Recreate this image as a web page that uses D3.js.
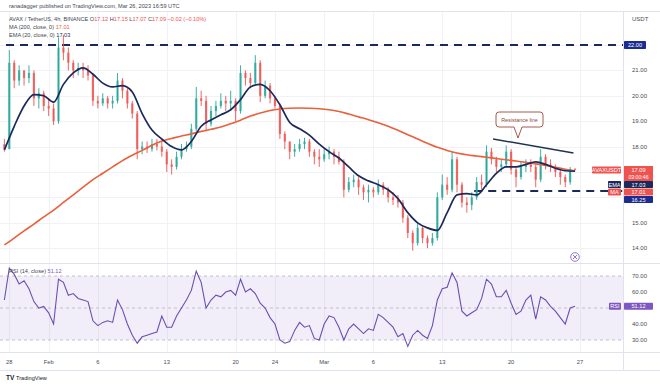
<!DOCTYPE html>
<html>
<head>
<meta charset="utf-8">
<script src="https://cdn.jsdelivr.net/npm/d3@7"></script>
<style>
  body { margin: 0; background: #fff; }
  svg { display: block; font-family: "Liberation Sans", Arial, sans-serif; }
</style>
</head>
<body>
<div id="chart"></div>
<script>
// AVAX/USDT candles at 12h steps starting 27 Jan 12:00 UTC
const candleStart = Date.UTC(2023, 0, 27, 12)
const candleStep = 12 * 3600 * 1000
const firstOpen = 18.1

const closes = [17.9,21.3,20.6,21.0,20.7,20.9,19.9,20.1,19.6,19.5,
  19.0,21.9,21.7,21.3,21.0,21.1,21.0,20.8,19.8,19.7,
  19.9,19.7,19.8,20.6,20.2,19.7,19.3,17.9,18.0,17.9,
  18.1,18.0,17.8,17.3,17.2,17.6,17.9,18.0,18.7,19.9,
  19.8,18.9,19.4,19.6,19.8,19.7,19.8,19.4,20.9,20.7,
  20.5,21.3,20.0,20.4,19.9,19.6,18.5,18.2,17.8,17.9,
  18.1,18.2,17.8,17.6,17.5,17.7,17.8,17.6,17.4,16.3,
  16.6,16.7,16.4,16.2,16.3,16.2,16.5,16.3,16.0,15.9,
  15.8,15.2,14.6,14.2,14.8,14.4,14.2,14.4,16.0,16.5,
  16.3,17.5,16.5,15.8,15.7,16.0,16.6,16.5,17.8,17.5,
  17.2,17.3,17.8,17.1,16.8,17.2,17.3,17.2,16.7,17.6,
  17.3,17.2,17.0,16.8,16.6,17.12,17.09]

const highs = [18.3,21.8,21.4,21.2,21.0,21.2,21.0,20.3,20.2,19.9,
  19.7,22.3,22.4,21.9,21.4,21.3,21.3,21.2,20.9,20.0,
  20.1,20.0,20.0,20.9,20.7,20.3,19.8,19.4,18.2,18.2,
  18.3,18.3,18.2,17.9,17.5,17.8,18.1,18.2,18.9,20.35,
  20.2,20.0,19.6,19.8,20.1,20.0,20.2,19.9,21.2,21.0,
  20.9,21.6,21.4,20.6,20.5,20.0,19.7,18.6,18.2,18.1,
  18.3,18.35,18.3,17.9,17.9,17.9,18.0,17.9,17.8,17.5,
  16.8,16.9,16.8,16.5,16.5,16.4,16.7,16.6,16.4,16.2,
  16.1,15.9,15.3,14.7,15.0,14.9,14.5,14.6,16.2,16.9,
  16.8,17.8,17.6,16.6,16.0,16.2,16.8,16.9,18.05,17.95,
  17.6,17.5,18.05,17.9,17.2,17.4,17.5,17.5,17.3,17.9,
  17.7,17.5,17.3,17.1,16.9,17.2,17.15]

const lows = [17.8,17.9,20.3,20.4,20.4,20.5,19.6,19.5,19.4,19.2,
  18.85,18.9,21.4,21.0,20.7,20.8,20.7,20.6,19.6,19.5,
  19.6,19.5,19.5,19.7,19.9,19.5,19.1,17.5,17.7,17.75,
  17.8,17.85,17.6,17.0,16.9,17.1,17.5,17.8,17.9,18.6,
  19.6,18.6,18.8,19.2,19.5,19.4,19.4,19.0,19.3,20.4,
  20.3,20.4,19.75,19.9,19.7,19.5,18.3,17.9,17.5,17.6,
  17.8,17.9,17.6,17.3,17.2,17.4,17.5,17.3,17.3,16.0,
  16.2,16.4,16.1,15.9,15.8,16.0,16.1,16.1,15.8,15.7,
  15.6,15.0,14.4,13.9,14.1,14.2,14.0,14.1,14.3,15.9,
  16.1,16.2,16.2,15.6,15.4,15.5,15.9,16.3,16.4,17.3,
  17.0,17.0,17.2,16.9,16.4,16.7,17.0,17.0,16.4,16.6,
  17.1,17.0,16.8,16.5,16.4,16.5,17.07]

// RSI(14) at the same 12h steps
const rsiValues = [55,75,71,65,67,62,54,50,51,47,
  40,68,66,58,59,56,55,54,42,39,
  41,42,41,55,49,40,33,28,32,33,
  34,35,45,38,38,45,50,55,61,73,
  66,50,55,58,57,60,61,58,68,60,
  62,59,53,50,44,40,30,28,29,36,
  41,38,39,31,30,40,45,44,38,30,
  37,40,37,34,37,36,46,44,41,38,
  32,34,26,33,36,33,31,39,55,62,
  63,72,66,48,45,47,49,56,68,65,
  57,57,61,53,46,48,55,58,43,57,
  55,51,48,44,40,50,51.12]

// moving averages, one value a day (12:00 UTC) from 27 Jan
const lineStep = 24 * 3600 * 1000
const emaValues = [17.87,18.8,19.6,20.05,20.0,19.75,20.45,20.9,21.1,20.85,
  20.5,20.35,20.4,20.15,19.3,18.65,18.3,18.0,17.87,18.2,
  18.8,19.05,19.25,19.45,19.85,20.35,20.45,20.2,19.65,18.95,
  18.7,18.45,18.1,17.8,17.55,17.2,16.85,16.65,16.5,16.3,
  15.95,15.4,15.0,14.8,14.7,15.4,16.1,16.15,16.1,16.5,
  16.95,17.2,17.2,17.3,17.4,17.3,17.15,17.05,17.03]
const maValues = [14.13,14.4,14.68,14.95,15.23,15.5,15.8,16.1,16.4,16.7,
  16.95,17.2,17.45,17.66,17.85,18.05,18.22,18.32,18.42,18.5,
  18.6,18.68,18.77,18.9,19.04,19.2,19.32,19.42,19.48,19.51,
  19.52,19.51,19.49,19.45,19.38,19.28,19.17,19.06,18.94,18.8,
  18.64,18.47,18.3,18.13,17.97,17.85,17.75,17.68,17.63,17.58,
  17.53,17.48,17.43,17.38,17.32,17.26,17.19,17.11,17.05]

const priceTicks = [22, 21, 20, 19, 18, 15, 14]
const rsiTicks = [70, 60, 40, 30]
const rsiBands = [70, 50, 30]
const tickDates = [[0,28],[1,1],[1,6],[1,13],[1,20],[1,24],[2,1],[2,6],[2,13],[2,20],[2,27]]
const tickLabels = ["28","Feb","6","13","20","24","Mar","6","13","20","27"]

const supportLevel = 16.25
const topLevel = 22
const resistance = [[Date.UTC(2023,2,18,4), 18.3], [Date.UTC(2023,2,26,8), 17.75]]

const W = 660, H = 384
const axisX = 623
const up = "#26a69a", down = "#ef5350"
const maColor = "#e8603c", emaColor = "#1b2a5c", navy = "#1c2b8f"

const x = d3.scaleTime()
  .domain([Date.UTC(2023,0,28), Date.UTC(2023,2,27)])
  .range([9.3, 580])
const y = d3.scaleLinear().domain([14, 22]).range([248.2, 45])
const yr = d3.scaleLinear().domain([30, 70]).range([340, 276])

const candles = closes.map((c, i) => ({
  t: candleStart + i * candleStep,
  o: i ? closes[i - 1] : firstOpen,
  h: highs[i], l: lows[i], c
}))

const svg = d3.select("#chart").append("svg")
  .attr("width", W).attr("height", H)

// frame and grid
const grid = svg.append("g").attr("stroke", "#f1f2f5").attr("stroke-width", 1)
tickDates.forEach(d => {
  const gx = Math.round(x(Date.UTC(2023, d[0], d[1]))) + 0.5
  grid.append("line").attr("x1", gx).attr("x2", gx).attr("y1", 12).attr("y2", 352)
})
priceTicks.concat([17, 16]).forEach(p => {
  grid.append("line").attr("x1", 0).attr("x2", axisX).attr("y1", Math.round(y(p)) + 0.5).attr("y2", Math.round(y(p)) + 0.5)
})

svg.append("rect")
  .attr("x", 0).attr("width", axisX)
  .attr("y", yr(70)).attr("height", yr(30) - yr(70))
  .attr("fill", "#7e57c2").attr("fill-opacity", 0.1)

const frame = svg.append("g").attr("stroke", "#e0e3eb").attr("stroke-width", 1)
frame.append("line").attr("x1", 0).attr("x2", W).attr("y1", 11.5).attr("y2", 11.5)
frame.append("line").attr("x1", 0).attr("x2", W).attr("y1", 263.5).attr("y2", 263.5)
frame.append("line").attr("x1", 0).attr("x2", W).attr("y1", 352.5).attr("y2", 352.5)
frame.append("line").attr("x1", 0).attr("x2", W).attr("y1", 370.5).attr("y2", 370.5)
frame.append("line").attr("x1", axisX + 0.5).attr("x2", axisX + 0.5).attr("y1", 11.5).attr("y2", 370.5)

// header
const head = svg.append("g").attr("font-size", 5.6).attr("fill", "#434651")
head.append("text").attr("x", 9).attr("y", 8).text("ranadagger published on TradingView.com, Mar 26, 2023 16:59 UTC")
const l2 = head.append("text").attr("x", 9).attr("y", 21)
l2.append("tspan").text("AVAX / TetherUS, 4h, BINANCE  O")
l2.append("tspan").attr("fill", down).text("17.12")
l2.append("tspan").text("  H")
l2.append("tspan").attr("fill", down).text("17.15")
l2.append("tspan").text("  L")
l2.append("tspan").attr("fill", down).text("17.07")
l2.append("tspan").text("  C")
l2.append("tspan").attr("fill", down).text("17.09  \u22120.02 (\u22120.10%)")
const l3 = head.append("text").attr("x", 9).attr("y", 29)
l3.append("tspan").text("MA (200, close, 0)  ")
l3.append("tspan").attr("fill", maColor).text("17.01")
const l4 = head.append("text").attr("x", 9).attr("y", 37)
l4.append("tspan").text("EMA (20, close, 0)  ")
l4.append("tspan").attr("fill", emaColor).text("17.03")

// horizontal levels
svg.append("line")
  .attr("x1", 6).attr("x2", axisX).attr("y1", y(topLevel)).attr("y2", y(topLevel))
  .attr("stroke", emaColor).attr("stroke-width", 2).attr("stroke-dasharray", "8,6")
svg.append("line")
  .attr("x1", x(Date.UTC(2023,2,16,6))).attr("x2", axisX).attr("y1", y(supportLevel)).attr("y2", y(supportLevel))
  .attr("stroke", emaColor).attr("stroke-width", 2).attr("stroke-dasharray", "8,6")

// candles
const cw = 2.2
const cg = svg.append("g")
candles.forEach(d => {
  const cx = x(d.t)
  const col = d.c >= d.o ? up : down
  const top = Math.max(d.o, d.c), bot = Math.min(d.o, d.c)
  cg.append("line")
    .attr("x1", cx).attr("x2", cx)
    .attr("y1", y(Math.max(d.h, top))).attr("y2", y(Math.min(d.l, bot)))
    .attr("stroke", col).attr("stroke-width", 0.9)
  cg.append("rect")
    .attr("x", cx - cw / 2).attr("width", cw)
    .attr("y", y(top)).attr("height", Math.max(0.8, y(bot) - y(top)))
    .attr("fill", col).attr("fill-opacity", 0.8)
})

// moving averages
const lineTime = i => candleStart + i * lineStep
const ln = d3.line().x((d, i) => x(lineTime(i))).y(d => y(d)).curve(d3.curveMonotoneX)
svg.append("path").attr("d", ln(maValues)).attr("fill", "none")
  .attr("stroke", maColor).attr("stroke-width", 1.6)
svg.append("path").attr("d", ln(emaValues)).attr("fill", "none")
  .attr("stroke", emaColor).attr("stroke-width", 1.7)

// resistance line + callout
svg.append("line")
  .attr("x1", x(resistance[0][0])).attr("y1", y(resistance[0][1]))
  .attr("x2", x(resistance[1][0])).attr("y2", y(resistance[1][1]))
  .attr("stroke", "#1f3350").attr("stroke-width", 1.4)
const bx = 496, by = 112, bw = 47, bh = 15
svg.append("path")
  .attr("d", `M${bx + 3},${by} H${bx + bw - 3} Q${bx + bw},${by} ${bx + bw},${by + 3} V${by + bh - 3} Q${bx + bw},${by + bh} ${bx + bw - 3},${by + bh}
    H${bx + 26} L${bx + 22},${by + bh + 11} L${bx + 18},${by + bh} H${bx + 3} Q${bx},${by + bh} ${bx},${by + bh - 3} V${by + 3} Q${bx},${by} ${bx + 3},${by} Z`)
  .attr("fill", "#fff").attr("stroke", "#a85a4e").attr("stroke-width", 1)
svg.append("text").attr("x", bx + bw / 2).attr("y", by + 9.5)
  .attr("text-anchor", "middle").attr("font-size", 5.4).attr("fill", "#8b4a3d")
  .text("Resistance line")

// small close icon
svg.append("circle").attr("cx", 575).attr("cy", 257).attr("r", 4.3)
  .attr("fill", "#fff").attr("stroke", "#9575cd").attr("stroke-width", 1)
svg.append("path").attr("d", "M573,255 L577,259 M577,255 L573,259")
  .attr("stroke", "#9575cd").attr("stroke-width", 1)

// RSI pane
rsiBands.forEach(v => {
  svg.append("line").attr("x1", 0).attr("x2", axisX).attr("y1", yr(v)).attr("y2", yr(v))
    .attr("stroke", "#b2b5be").attr("stroke-width", 0.8).attr("stroke-dasharray", "3,3")
})
const rl = d3.line().x((d, i) => x(candleStart + i * candleStep)).y(d => yr(d))
svg.append("path").attr("d", rl(rsiValues)).attr("fill", "none")
  .attr("stroke", "#6a4fb0").attr("stroke-width", 1.1)
const rh = svg.append("text").attr("x", 9).attr("y", 273).attr("font-size", 5.6).attr("fill", "#434651")
rh.append("tspan").text("RSI (14, close)  ")
rh.append("tspan").attr("fill", "#7e57c2").text("51.12")

// right axis
const ax = svg.append("g").attr("font-size", 6).attr("fill", "#4a4d57")
ax.append("text").attr("x", 632).attr("y", 21).text("USDT")
priceTicks.filter(p => p !== topLevel).forEach(p => {
  ax.append("text").attr("x", 632).attr("y", y(p) + 2).text(p.toFixed(2))
})
rsiTicks.forEach(v => {
  ax.append("text").attr("x", 632).attr("y", yr(v) + 2).text(v.toFixed(2))
})

function tag(x0, yc, w, h, fill, txt) {
  svg.append("rect").attr("x", x0).attr("y", yc - h / 2).attr("width", w).attr("height", h)
    .attr("fill", fill).attr("rx", 0.8)
  svg.append("text").attr("x", x0 + w / 2).attr("y", yc + 2).attr("text-anchor", "middle")
    .attr("font-size", 5.6).attr("fill", "#fff").text(txt)
}
tag(624, y(topLevel), 22, 8, navy, "22.00")
tag(592, 170, 29, 7, down, "AVAXUSDT")
svg.append("rect").attr("x", 624).attr("y", 166).attr("width", 29).attr("height", 15).attr("fill", down)
svg.append("text").attr("x", 638.5).attr("y", 172).attr("text-anchor", "middle").attr("font-size", 5.6).attr("fill", "#fff").text("17.09")
svg.append("text").attr("x", 638.5).attr("y", 179).attr("text-anchor", "middle").attr("font-size", 5.2).attr("fill", "#fff").text("03:00:46")
tag(608, 184.5, 13, 7, emaColor, "EMA")
tag(624, 184.5, 29, 7, emaColor, "17.03")
tag(608, 192, 13, 7, down, "MA")
tag(624, 192, 29, 7, down, "17.01")
tag(624, 199.5, 29, 7, navy, supportLevel.toFixed(2))
tag(609, yr(51.12), 12, 7, "#7e57c2", "RSI")
tag(624, yr(51.12), 29, 7, "#7e57c2", "51.12")

// time axis
const tx = svg.append("g").attr("font-size", 5.8).attr("fill", "#4a4d57").attr("text-anchor", "middle")
tickDates.forEach((d, i) => {
  tx.append("text").attr("x", x(Date.UTC(2023, d[0], d[1]))).attr("y", 364).text(tickLabels[i])
})

// footer logo
const logo = svg.append("g").attr("fill", "#131722")
logo.append("text").attr("x", 6).attr("y", 380).attr("font-size", 6.5).attr("font-weight", "bold").text("TV")
logo.append("text").attr("x", 16).attr("y", 380).attr("font-size", 5.6).text("TradingView")
</script>
</body>
</html>
